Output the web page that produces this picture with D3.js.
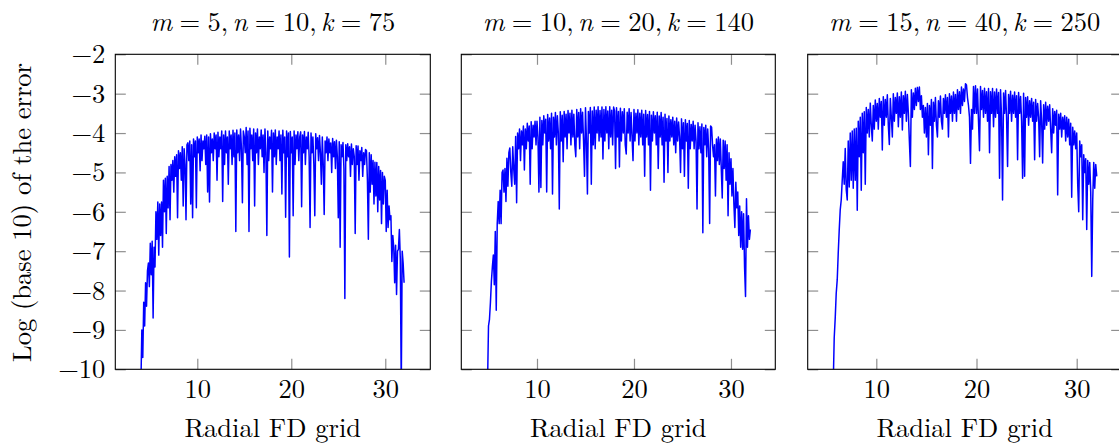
<!DOCTYPE html>
<html><head><meta charset="utf-8">
<script src="https://cdn.jsdelivr.net/npm/d3@7"></script>
<style>body{margin:0;background:#fff}svg{display:block}</style>
</head><body>
<svg id="chart" width="1119" height="444"></svg>
<script>
// ---------- data ----------
const mVals = [5, 10, 15];
const nVals = [10, 20, 40];
const kVals = [75, 140, 250];
const xTicks = [10, 20, 30];
const yTicks = [-10, -9, -8, -7, -6, -5, -4, -3, -2];
const xLabel = "Radial FD grid";
const yLabel = "Log (base 10) of the error";
const gridStep = 0.1;
const gridStart = [4.0, 4.9, 5.7];

// m=5, n=10, k=75  (x = 4.0 ... 32.0)
const err1 = [
-10.4,-9.0,-9.7,-8.3,-8.9,-7.8,-8.4,-7.5,-7.3,-7.9,
-6.8,-7.6,-6.75,-8.7,-6.9,-7.4,-6.0,-6.7,-5.75,-7.1,
-5.8,-6.6,-5.75,-6.9,-5.2,-6.0,-5.15,-6.55,-5.1,-5.9,
-4.85,-6.2,-4.8,-5.2,-4.7,-5.5,-4.6,-5.1,-4.55,-6.15,
-4.45,-4.9,-4.5,-5.2,-4.35,-5.85,-4.4,-4.8,-6.2,-4.3,
-4.25,-4.7,-4.2,-5.8,-4.3,-6.15,-4.15,-4.6,-4.2,-5.9,
-4.1,-4.5,-4.15,-4.96,-4.05,-4.7,-4.2,-4.4,-4.08,-4.8,
-4.05,-5.5,-4.1,-5.75,-4.02,-4.5,-4.15,-4.7,-4.0,-4.4,
-4.05,-5.2,-3.98,-4.6,-4.1,-4.4,-3.95,-5.74,-4.05,-4.8,
-3.95,-4.5,-4.1,-5.3,-3.95,-4.4,-4.05,-4.8,-3.93,-4.6,
-4.0,-6.5,-3.92,-4.5,-4.05,-4.7,-3.9,-4.4,-5.77,-3.95,
-4.1,-4.5,-3.86,-4.8,-3.95,-6.5,-3.88,-4.4,-4.05,-4.7,
-3.9,-5.85,-4.0,-4.5,-3.9,-4.8,-4.1,-4.4,-3.92,-4.6,
-4.05,-5.0,-3.9,-4.5,-6.6,-3.95,-4.7,-4.1,-4.4,-3.93,
-5.5,-4.0,-4.6,-3.92,-4.8,-4.1,-4.4,-3.95,-4.7,-4.05,
-5.55,-3.93,-4.5,-4.1,-6.14,-3.95,-4.6,-4.0,-7.15,-3.96,
-4.5,-4.1,-6.1,-3.95,-4.8,-4.05,-4.4,-3.97,-4.7,-4.1,
-3.97,-5.87,-4.05,-4.5,-3.96,-4.8,-4.1,-4.4,-3.98,-4.6,
-6.4,-4.0,-4.5,-4.1,-4.8,-6.1,-4.02,-4.4,-4.12,-4.7,
-4.06,-4.5,-5.3,-4.1,-4.8,-6.07,-4.2,-4.5,-4.1,-4.7,
-4.15,-4.5,-4.25,-5.0,-4.14,-4.6,-4.22,-4.9,-4.18,-4.6,
-6.15,-4.22,-6.9,-4.3,-4.6,-4.24,-4.9,-8.2,-4.3,-4.7,
-4.27,-4.6,-4.35,-5.1,-4.28,-4.8,-4.4,-4.6,-6.55,-4.32,
-4.8,-4.33,-5.2,-4.45,-4.7,-4.37,-5.1,-4.5,-4.8,-4.42,
-4.45,-5.2,-6.7,-4.5,-5.5,-4.55,-5.3,-4.7,-5.8,-4.74,
-5.6,-4.75,-6.0,-4.85,-5.7,-4.95,-6.3,-5.0,-5.8,-5.1,
-5.2,-6.5,-5.45,-6.4,-5.85,-6.2,-6.1,-7.26,-6.6,-6.9,
-7.8,-6.85,-8.1,-7.0,-6.95,-6.45,-7.2,-10.5,-7.0,-7.3,
-7.8
];

// m=10, n=20, k=140  (x = 4.9 ... 32.0)
const err2 = [
-10.4,
-8.9,-8.73,-8.3,-7.76,-7.4,-7.1,-7.85,-6.5,-8.5,-6.3,
-5.74,-6.3,-5.45,-6.3,-5.0,-4.94,-5.5,-4.9,-5.74,-4.64,
-5.35,-4.5,-4.38,-5.0,-5.35,-4.35,-4.9,-5.3,-4.09,-5.77,
-4.0,-4.4,-3.9,-4.7,-3.95,-4.3,-3.82,-4.94,-3.9,-4.4,
-3.75,-4.2,-3.82,-5.3,-3.71,-4.4,-3.8,-4.1,-3.7,-4.3,
-3.7,-4.1,-5.5,-3.6,-5.38,-3.68,-4.3,-3.56,-4.0,-3.65,
-5.5,-3.53,-4.2,-3.62,-4.4,-3.5,-5.55,-3.6,-4.1,-3.48,
-4.3,-3.56,-4.0,-5.93,-3.46,-4.2,-3.55,-4.73,-3.45,-4.1,
-3.52,-4.4,-3.43,-4.0,-3.5,-4.3,-3.42,-4.1,-3.52,-4.3,
-4.6,-3.4,-4.1,-3.48,-4.4,-3.38,-4.0,-3.47,-4.2,-5.1,
-3.36,-4.2,-5.55,-3.45,-4.0,-3.35,-5.3,-3.44,-4.3,-3.34,
-4.4,-3.42,-4.0,-3.33,-4.2,-3.43,-4.1,-3.34,-4.66,-3.4,
-4.2,-3.33,-4.0,-3.44,-4.4,-3.33,-4.1,-3.42,-4.3,-3.34,
-3.44,-4.9,-3.36,-4.1,-3.45,-4.86,-3.37,-4.2,-3.46,-4.0,
-3.38,-4.3,-4.53,-3.47,-4.0,-3.38,-4.2,-3.48,-4.1,-4.7,
-3.4,-4.2,-3.5,-4.0,-3.41,-4.3,-3.5,-4.1,-3.42,-4.3,
-3.52,-5.1,-3.43,-4.1,-3.53,-4.3,-3.45,-5.45,-3.55,-4.2,
-3.46,-4.0,-3.56,-4.3,-3.47,-4.9,-3.57,-4.1,-3.48,-4.3,
-3.6,-5.25,-3.52,-4.2,-3.63,-5.0,-3.57,-4.2,-3.66,-4.1,
-3.6,-4.3,-3.7,-4.5,-3.62,-4.2,-3.72,-4.1,-5.0,-3.64,
-4.4,-3.74,-5.1,-3.66,-4.2,-3.76,-5.4,-3.68,-4.4,-3.78,
-4.2,-3.7,-4.4,-3.8,-4.2,-5.93,-3.74,-4.4,-3.84,-4.5,
-3.77,-6.53,-3.86,-4.3,-3.8,-4.6,-3.9,-4.4,-6.3,-3.82,
-3.85,-4.3,-4.6,-4.3,-5.6,-4.15,-4.7,-4.1,-4.8,-4.15,
-4.9,-5.65,-4.18,-4.9,-4.2,-5.2,-4.3,-6.1,-4.5,-5.3,
-4.65,-5.6,-4.9,-5.8,-6.4,-5.25,-5.9,-5.5,-6.6,-5.85,
-6.9,-6.0,-6.95,-6.05,-7.4,-8.15,-5.67,-6.9,-6.1,-6.7,
-6.45
];

// m=15, n=40, k=250  (x = 5.7 ... 32.0)
const err3 = [
-10.4,-9.2,-8.7,
-8.07,-7.73,-7.06,-6.46,-5.95,-5.7,-5.2,-4.73,-5.3,-4.39,
-5.44,-5.7,-4.2,-5.37,-4.0,-5.2,-3.95,-5.4,-3.9,-5.2,
-3.88,-5.96,-3.7,-4.6,-3.6,-5.45,-3.5,-4.5,-3.46,-5.3,
-3.35,-4.0,-3.4,-4.1,-3.24,-3.8,-4.2,-3.3,-3.9,-3.16,
-3.7,-3.25,-3.9,-3.12,-3.6,-3.2,-4.43,-3.08,-3.8,-3.15,
-3.6,-3.03,-3.8,-4.29,-3.12,-3.6,-4.1,-3.0,-3.7,-3.1,
-3.5,-2.98,-3.84,-3.08,-3.6,-2.96,-3.92,-3.05,-3.5,-2.94,
-3.7,-3.02,-3.5,-4.2,-4.85,-2.9,-3.6,-2.98,-3.4,-2.86,
-3.3,-2.84,-3.2,-2.83,-3.4,-3.05,-3.6,-3.3,-4.0,-3.35,
-4.1,-3.25,-4.55,-3.3,-3.8,-3.15,-4.9,-3.22,-3.7,-3.1,
-3.8,-4.1,-3.18,-3.6,-3.06,-3.7,-3.9,-3.12,-3.5,-3.03,
-3.6,-3.1,-4.1,-3.0,-3.5,-3.06,-3.7,-2.96,-3.5,-3.02,
-3.7,-2.9,-3.4,-2.95,-3.5,-2.83,-3.3,-2.88,-3.2,-2.75,
-2.78,-3.1,-3.3,-3.6,-4.77,-3.4,-3.9,-2.82,-3.5,-2.8,
-3.5,-2.88,-3.7,-4.45,-2.82,-3.4,-2.92,-3.6,-2.86,-3.5,
-2.95,-3.7,-2.87,-4.5,-2.95,-3.5,-2.87,-3.84,-2.96,-3.6,
-2.88,-3.5,-2.97,-5.15,-2.9,-3.6,-5.7,-2.98,-3.5,-2.92,
-3.6,-4.85,-3.02,-3.5,-2.94,-3.7,-3.04,-3.5,-2.96,-3.6,
-3.05,-4.68,-2.97,-3.5,-3.07,-3.7,-5.15,-2.99,-5.1,-3.1,
-3.6,-3.08,-3.8,-3.18,-3.6,-3.12,-3.7,-3.22,-4.68,-3.15,
-3.7,-3.25,-3.6,-4.6,-3.18,-3.7,-4.76,-3.28,-3.9,-3.22,
-3.8,-3.32,-3.7,-3.28,-3.9,-4.5,-3.38,-4.0,-3.45,-3.8,
-3.42,-5.57,-3.52,-3.9,-3.5,-4.1,-3.6,-3.9,-3.56,-4.2,
-3.6,-4.1,-3.65,-4.3,-3.75,-5.63,-3.85,-4.3,-3.95,-4.4,
-4.0,-5.3,-6.0,-4.2,-4.6,-4.3,-6.2,-4.55,-5.0,-4.65,
-6.45,-4.7,-5.3,-4.75,-5.5,-7.64,-5.7,-4.75,-5.4,-4.8,
-5.1
];
const series = [err1, err2, err3];

// ---------- layout ----------
const plotTop = 54.3, plotBottom = 369.3;
const boxes = [[115.3, 430.3], [461.3, 775.3], [807.7, 1121.7]];
const xDomains = [[1.277, 34.79], [2.196, 34.57], [3.154, 34.49]];
const FONT = "'Latin Modern Roman','CMU Serif','Liberation Serif',serif";
const FS = 26.5;
const tickLen = 10.5;
const tickColor = "#8f8f8f";
const titleBaseline = 30.5;

const svg = d3.select("#chart");
const defs = svg.append("defs");
const y = d3.scaleLinear().domain([-10, -2]).range([plotBottom, plotTop]);

series.forEach((vals, i) => {
  const [L, R] = boxes[i];
  const x = d3.scaleLinear().domain(xDomains[i]).range([L, R]);
  const g = svg.append("g");

  const styleAxis = sel => {
    sel.select(".domain").remove();
    sel.selectAll(".tick line").attr("stroke", tickColor).attr("stroke-width", 1.2);
    sel.attr("font-family", FONT).attr("font-size", FS);
    sel.selectAll(".tick text").attr("fill", "#000");
  };

  g.append("g").attr("transform", `translate(0,${plotBottom})`)
    .call(d3.axisBottom(x).tickValues(xTicks).tickSizeInner(-tickLen).tickSizeOuter(0)
      .tickPadding(9.5).tickFormat(d3.format("d"))).call(styleAxis);
  g.append("g").attr("transform", `translate(0,${plotTop})`)
    .call(d3.axisTop(x).tickValues(xTicks).tickSizeInner(-tickLen).tickSizeOuter(0).tickFormat("")).call(styleAxis);
  g.append("g").attr("transform", `translate(${L},0)`)
    .call(d3.axisLeft(y).tickValues(yTicks).tickSizeInner(-tickLen).tickSizeOuter(0)
      .tickPadding(10).tickFormat(i === 0 ? d3.format("d") : "")).call(styleAxis);
  g.append("g").attr("transform", `translate(${R},0)`)
    .call(d3.axisRight(y).tickValues(yTicks).tickSizeInner(-tickLen).tickSizeOuter(0).tickFormat("")).call(styleAxis);

  // clipped data line
  defs.append("clipPath").attr("id", "clip" + i).append("rect")
    .attr("x", L).attr("y", plotTop).attr("width", R - L).attr("height", plotBottom - plotTop);
  const line = d3.line()
    .x((d, j) => x(gridStart[i] + j * gridStep))
    .y(d => y(d));
  g.append("path").datum(vals)
    .attr("clip-path", `url(#clip${i})`)
    .attr("fill", "none").attr("stroke", "#0000ff").attr("stroke-width", 1.5)
    .attr("stroke-linejoin", "round").attr("d", line);

  // frame
  g.append("rect").attr("x", L).attr("y", plotTop).attr("width", R - L).attr("height", plotBottom - plotTop)
    .attr("fill", "none").attr("stroke", "#000").attr("stroke-width", 1.1);

  // title  m = .., n = .., k = ..   (pieces laid out left to right, centred on the panel)
  const cx = (L + R) / 2;
  const parts = [
    ["m", 1, 0], ["=", 0, 0.278], [mVals[i] + ",", 0, 0.278],
    ["n", 1, 0.167], ["=", 0, 0.278], [nVals[i] + ",", 0, 0.278],
    ["k", 1, 0.167], ["=", 0, 0.278], [String(kVals[i]), 0, 0.278]
  ];
  const tg = g.append("g");
  let cursor = 0;
  const nodes = parts.map(([s, it, dx]) => {
    cursor += dx * FS;
    const tx = tg.append("text").attr("y", titleBaseline)
      .attr("font-family", FONT).attr("font-size", FS)
      .attr("font-style", it ? "italic" : "normal").text(s);
    const pos = cursor;
    cursor += tx.node().getComputedTextLength();
    return [tx, pos];
  });
  const start = cx - cursor / 2;
  nodes.forEach(([tx, pos]) => tx.attr("x", start + pos));

  // x label
  g.append("text").attr("x", cx).attr("y", 436.5).attr("text-anchor", "middle")
    .attr("font-family", FONT).attr("font-size", FS).text(xLabel);
});

// y label
svg.append("text").attr("transform", "translate(30.5,212.5) rotate(-90)")
  .attr("text-anchor", "middle").attr("font-family", FONT).attr("font-size", FS)
  .text(yLabel);
</script>
</body></html>
